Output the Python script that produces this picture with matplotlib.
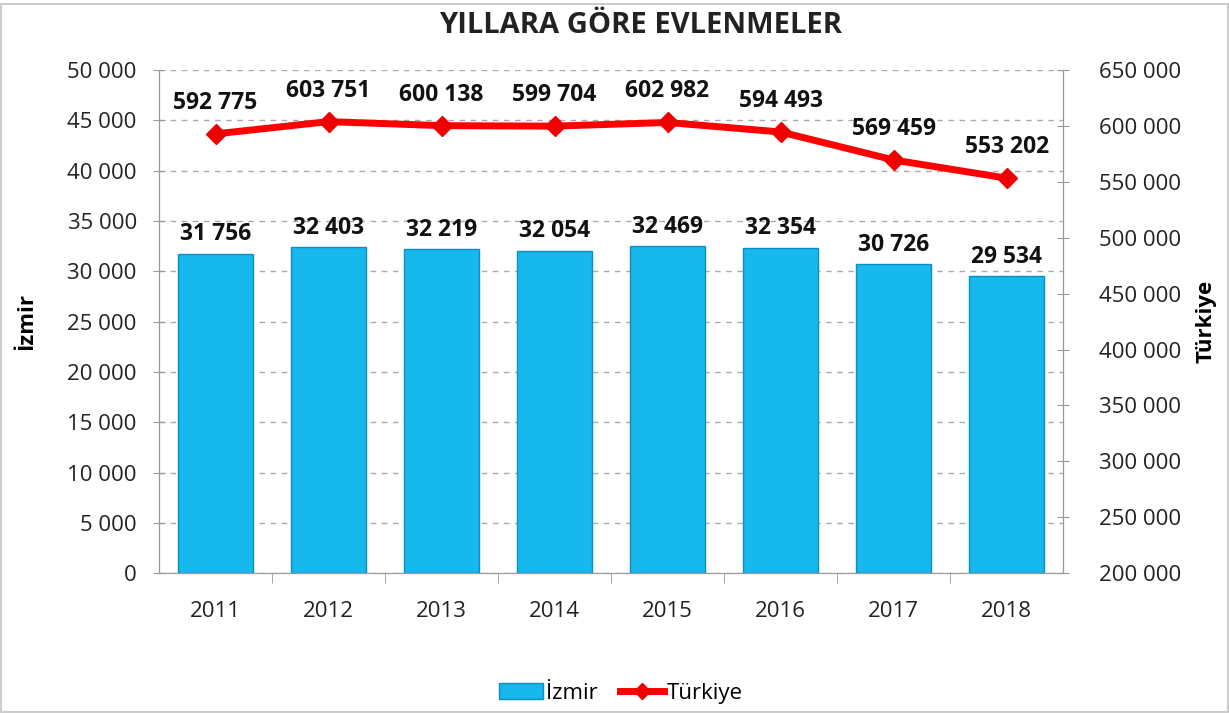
import matplotlib.pyplot as plt
from matplotlib.ticker import FuncFormatter, MultipleLocator
from matplotlib.lines import Line2D
from matplotlib.patches import Patch

years = ['2011', '2012', '2013', '2014', '2015', '2016', '2017', '2018']
izmir = [31756, 32403, 32219, 32054, 32469, 32354, 30726, 29534]
turkiye = [592775, 603751, 600138, 599704, 602982, 594493, 569459, 553202]

plt.rcParams['font.family'] = ['Open Sans', 'DejaVu Sans']


def spaced(v, pos=None):
    return f'{int(v):,}'.replace(',', ' ')


fig = plt.figure(figsize=(12.29, 7.13), dpi=100)
ax = fig.add_axes([0.1294, 0.196, 0.7356, 0.706])
ax2 = ax.twinx()

x = range(len(years))
ax.bar(x, izmir, width=0.66, color='#16B8EE', edgecolor='#0A8FC4', linewidth=1, zorder=3)
ax.set_ylim(0, 50000)
ax.yaxis.set_major_locator(MultipleLocator(5000))
ax.yaxis.set_major_formatter(FuncFormatter(spaced))
ax.set_xlim(-0.5, len(years) - 0.5)
ax.set_xticks(list(x))
ax.set_xticklabels(years)
ax.set_xticks([i + 0.5 for i in range(len(years) - 1)], minor=True)
ax.grid(axis='y', linestyle=(0, (4, 4)), color='#AAAAAA', linewidth=1, zorder=0)
ax.set_axisbelow(True)
for i, v in enumerate(izmir):
    ax.text(i, v + 700, spaced(v), ha='center', va='bottom', fontsize=16.5,
            fontweight='bold', color='#111111', zorder=5)

ax2.plot(x, turkiye, color='#FF0000', linewidth=5, marker='D', markersize=10,
         markerfacecolor='#EE0000', markeredgecolor='#EE0000', zorder=4)
ax2.set_ylim(200000, 650000)
ax2.yaxis.set_major_locator(MultipleLocator(50000))
ax2.yaxis.set_major_formatter(FuncFormatter(spaced))
for i, v in enumerate(turkiye):
    ax2.text(i, v + 17000, spaced(v), ha='center', va='bottom', fontsize=16.5,
             fontweight='bold', color='#111111', zorder=5)

for a in (ax, ax2):
    a.spines['top'].set_visible(False)
    for s in ('left', 'right', 'bottom'):
        a.spines[s].set_color('#999999')
    a.tick_params(axis='y', labelsize=16, colors='#999999', labelcolor='#222222',
                  direction='inout', length=8)
ax.tick_params(axis='x', which='major', length=0, pad=20, labelsize=16, labelcolor='#222222')
ax.tick_params(axis='x', which='minor', length=7, direction='out', color='#999999')
ax.tick_params(axis='y', pad=12)
ax2.tick_params(axis='y', pad=22)

ax.set_ylabel('İzmir', fontsize=16, fontweight='bold', labelpad=22)
ax2.set_ylabel('Türkiye', fontsize=16, fontweight='bold', labelpad=10)

fig.suptitle('YILLARA GÖRE EVLENMELER', x=0.521, y=0.985, fontsize=21,
             fontweight='bold', color='#222222')

handles = [Patch(facecolor='#16B8EE', edgecolor='#0A8FC4'),
           Line2D([0], [0], color='#FF0000', linewidth=5, marker='D',
                  markersize=8, markerfacecolor='#EE0000', markeredgecolor='#EE0000')]
fig.legend(handles, ['İzmir', 'Türkiye'], loc='center', bbox_to_anchor=(0.505, 0.028),
           ncol=2, frameon=False, fontsize=16, handlelength=2.0,
           handletextpad=0.1, columnspacing=1.0)

fig.add_artist(plt.Rectangle((0.001, 0.001), 0.998, 0.994, transform=fig.transFigure,
                             fill=False, edgecolor='#CCCCCC', linewidth=1.5))

fig.savefig('out.png', dpi=100)
